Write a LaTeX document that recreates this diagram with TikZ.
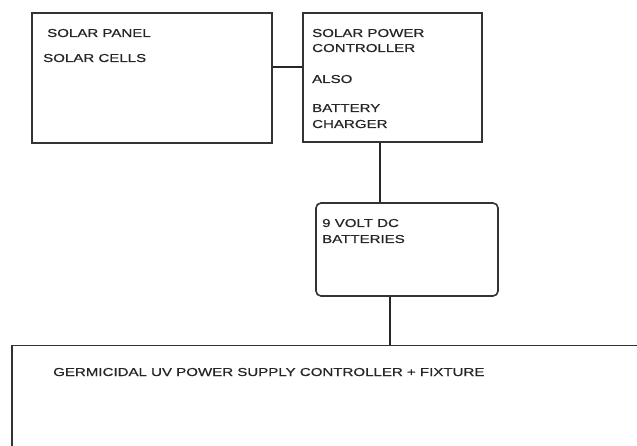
\documentclass[tikz,border=0pt]{standalone}
\usepackage{fontspec}
\setmainfont{Liberation Sans}[FakeStretch=1.31,FakeBold=0.6]
\begin{document}
\begin{tikzpicture}[x=1pt,y=-1pt,
  box/.style={draw=black!80,line width=1.6pt,minimum width=#1,inner sep=0pt},
  wire/.style={draw=black!85,line width=1.4pt},
  lbl/.style={anchor=base west,inner sep=0pt,font=\fontsize{11.5}{13}\selectfont,text=black!85}]
\useasboundingbox (0,0) rectangle (637,446);
\clip (0,0) rectangle (637,446);
\fill[white] (0,0) rectangle (637,446);
% boxes
\node[box=240pt,minimum height=130pt] (panel) at (152,78) {};
\node[box=179pt,minimum height=129pt] (ctrl) at (392.5,77.5) {};
\node[box=182pt,minimum height=93pt,rounded corners=5pt] (batt) at (407,249.5) {};
\node[box=648pt,minimum height=124pt] (uv) at (336,407.5) {};
% connection points
\coordinate (c1) at (0,67);
\coordinate (c2) at (380,0);
\coordinate (c3) at (390,0);
% connectors
\draw[wire] (panel.east |- c1) -- (ctrl.west |- c1);
\draw[wire] (ctrl.south -| c2) -- (batt.north -| c2);
\draw[wire] (batt.south -| c3) -- (uv.north -| c3);
% labels
\node[lbl] (t1) at (47,37) {SOLAR PANEL};
\node[lbl] (t2) at (43,62) {SOLAR CELLS};
\node[lbl] (t3) at (312,37) {SOLAR POWER};
\node[lbl] (t4) at (312,52) {CONTROLLER};
\node[lbl] (t5) at (312,83) {ALSO};
\node[lbl] (t6) at (312,112) {BATTERY};
\node[lbl] (t7) at (312,128) {CHARGER};
\node[lbl] (t8) at (322,227) {9 VOLT DC};
\node[lbl] (t9) at (322,243) {BATTERIES};
\node[lbl] (t10) at (53,376) {GERMICIDAL UV POWER SUPPLY CONTROLLER + FIXTURE};
\end{tikzpicture}
\end{document}
